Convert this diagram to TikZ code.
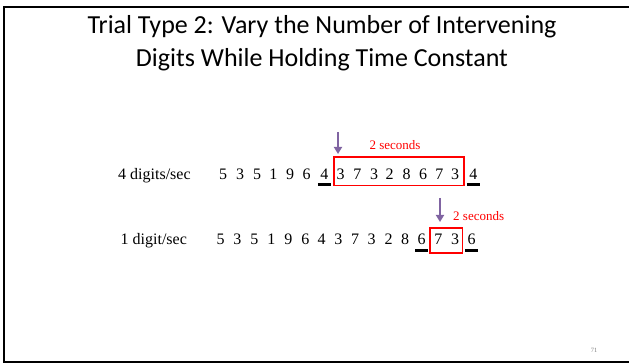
\documentclass[tikz,border=0pt]{standalone}
\usepackage{fontspec}
\setmainfont{Liberation Serif}
\newfontfamily\titlefont{Carlito}
\usetikzlibrary{arrows.meta}
\definecolor{arrowpurple}{HTML}{8064A2}
\definecolor{boxred}{HTML}{FF0000}
\tikzset{
  digit/.style={anchor=base, inner sep=0pt, font=\fontsize{16}{18}\selectfont},
  rowlabel/.style={anchor=base west, inner sep=0pt, font=\fontsize{16}{18}\selectfont},
  secs/.style={anchor=base west, inner sep=0pt, text=boxred, font=\fontsize{13}{15}\selectfont},
  titletext/.style={inner sep=0pt, font=\titlefont\fontsize{26}{30}\selectfont},
  redbox/.style={draw=boxred, line width=1.5pt, inner sep=0pt},
  markbar/.style={line width=3pt, black},
  purplearrow/.style={draw=arrowpurple, line width=2.2pt, -{Triangle[length=7pt,width=8pt]}},
  frameline/.style={line width=2pt, black}
}
\begin{document}
\begin{tikzpicture}[x=1pt,y=-1pt]
\useasboundingbox (0,0) rectangle (629,363);
% frame
\coordinate (ftl) at (4,7.5);
\coordinate (ftr) at (629,7.5);
\coordinate (fbl) at (4,361.5);
\coordinate (fbr) at (629,361.5);
\draw[frameline] (ftr) -- (ftl) -- (fbl) -- (fbr);
% title
\node[titletext] (t1) at (322,27) {Trial Type 2: Vary the Number of Intervening};
\node[titletext] (t2) at (322,60) {Digits While Holding Time Constant};
% row 1
\node[rowlabel] (lab1) at (118,180) {4 digits/sec};
\foreach \d/\x [count=\i from 0] in {5/223,3/240,5/257,1/273.3,9/290,6/306.7,4/324.3,3/340.7,7/357.3,3/374,2/389.7,8/406.7,6/423,7/439.3,3/455,4/473.3} {
  \node[digit] (a\i) at (\x,180) {\d};
}
\node[redbox, minimum width=130pt, minimum height=28.5pt] (box1) at (399,171.25) {};
\draw[markbar] ([xshift=-6.5pt,yshift=-4.5pt]a6.base) -- ([xshift=6.5pt,yshift=-4.5pt]a6.base);
\draw[markbar] ([xshift=-6.5pt,yshift=-4.5pt]a15.base) -- ([xshift=6.5pt,yshift=-4.5pt]a15.base);
\coordinate (ar1s) at (338,132);
\coordinate (ar1e) at (338,154);
\draw[purplearrow] (ar1s) -- (ar1e);
\node[secs] (s1) at (369.3,150) {2 seconds};
% row 2
\node[rowlabel] (lab2) at (120.5,245) {1 digit/sec};
\foreach \d/\x [count=\i from 0] in {5/220.5,3/237.3,5/254.3,1/271.3,9/288.3,6/305.3,4/321.7,3/338.3,7/355,3/371.7,2/388.7,8/405,6/421.7,7/438.3,3/455,6/471.7} {
  \node[digit] (b\i) at (\x,245) {\d};
}
\node[redbox, minimum width=32.7pt, minimum height=25pt] (box2) at (446.35,240.5) {};
\draw[markbar] ([xshift=-6.5pt,yshift=-6pt]b12.base) -- ([xshift=6.5pt,yshift=-6pt]b12.base);
\draw[markbar] ([xshift=-6.5pt,yshift=-6pt]b15.base) -- ([xshift=6.5pt,yshift=-6pt]b15.base);
\coordinate (ar2s) at (440,198);
\coordinate (ar2e) at (440,222);
\draw[purplearrow] (ar2s) -- (ar2e);
\node[secs] (s2) at (453,221) {2 seconds};
% page number
\node[inner sep=0pt, text=gray, font=\fontsize{6.5}{7}\selectfont] (pg) at (594,350) {71};
\end{tikzpicture}
\end{document}
